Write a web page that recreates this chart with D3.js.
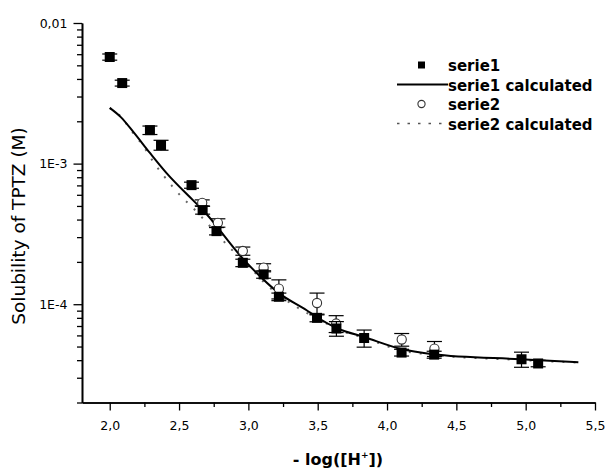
<!DOCTYPE html>
<html>
<head>
<meta charset="utf-8">
<script src="https://cdn.jsdelivr.net/npm/d3@7"></script>
<style>
  html, body { margin: 0; padding: 0; background: #fff; }
  svg { display: block; }
  text { font-family: "DejaVu Sans", sans-serif; fill: #000; }
</style>
</head>
<body>
<svg id="chart" width="606" height="468"></svg>
<script>
// Measured solubility, serie1 (filled squares)
const serie1X   = [2.00, 2.09, 2.29, 2.37, 2.59, 2.67, 2.77, 2.96, 3.11, 3.22, 3.495, 3.635, 3.835, 4.105, 4.34, 4.97, 5.09];
const serie1Y   = [5.73e-3, 3.74e-3, 1.73e-3, 1.355e-3, 7.03e-4, 4.67e-4, 3.31e-4, 1.97e-4, 1.63e-4, 1.13e-4, 8.0e-5, 6.72e-5, 5.75e-5, 4.53e-5, 4.38e-5, 4.06e-5, 3.79e-5];
const serie1Err = [2.9e-4, 1.8e-4, 1.2e-4, 1.1e-4, 3.5e-5, 3.0e-5, 2.0e-5, 1.2e-5, 1.0e-5, 7.0e-6, 5.0e-6, 8.0e-6, 8.0e-6, 2.5e-6, 2.5e-6, 5.0e-6, 2.0e-6];

// Measured solubility, serie2 (open circles)
const serie2X   = [2.667, 2.78, 2.96, 3.11, 3.22, 3.495, 3.633, 4.106, 4.342];
const serie2Y   = [5.26e-4, 3.79e-4, 2.39e-4, 1.82e-4, 1.29e-4, 1.02e-4, 7.29e-5, 5.61e-5, 4.84e-5];
const serie2Err = [2.6e-5, 2.6e-5, 1.6e-5, 1.2e-5, 2.0e-5, 1.8e-5, 1.0e-5, 0.58e-5, 0.59e-5];

// Model curves
const calc1X = [2.00, 2.08, 2.17, 2.29, 2.41, 2.60, 2.665, 2.97, 3.22, 3.42, 3.495, 3.64, 3.84, 4.11, 4.33, 4.96, 5.38];
const calc1Y = [2.49e-3, 2.14e-3, 1.68e-3, 1.19e-3, 8.56e-4, 5.50e-4, 4.75e-4, 2.06e-4, 1.20e-4, 9.06e-5, 8.08e-5, 6.75e-5, 5.82e-5, 4.78e-5, 4.41e-5, 4.06e-5, 3.87e-5];
const calc2X = [2.00, 2.09, 2.146, 2.21, 2.27, 2.32, 2.38, 2.45, 2.52, 2.58, 2.87, 3.03, 3.11, 3.35, 3.50, 3.65, 3.85, 4.10, 4.35, 4.95, 5.38];
const calc2Y = [2.48e-3, 2.11e-3, 1.76e-3, 1.47e-3, 1.21e-3, 1.01e-3, 8.42e-4, 6.92e-4, 5.78e-4, 5.07e-4, 2.50e-4, 1.75e-4, 1.44e-4, 9.52e-5, 7.9e-5, 6.6e-5, 5.7e-5, 4.7e-5, 4.35e-5, 4.02e-5, 3.85e-5];

// Axis ticks
const xMajor = [2.0, 2.5, 3.0, 3.5, 4.0, 4.5, 5.0, 5.5];
const xMajorLabels = ["2,0", "2,5", "3,0", "3,5", "4,0", "4,5", "5,0", "5,5"];
const xMinor = [2.25, 2.75, 3.25, 3.75, 4.25, 4.75, 5.25];
const yMajor = [1e-4, 1e-3, 1e-2];
const yMajorLabels = ["1E-4", "1E-3", "0,01"];
const yMinor = [2e-5, 3e-5, 4e-5, 5e-5, 6e-5, 7e-5, 8e-5, 9e-5,
                2e-4, 3e-4, 4e-4, 5e-4, 6e-4, 7e-4, 8e-4, 9e-4,
                2e-3, 3e-3, 4e-3, 5e-3, 6e-3, 7e-3, 8e-3, 9e-3];

const legendLabels = ["serie1", "serie1 calculated", "serie2", "serie2 calculated"];

const svg = d3.select("#chart");

const x = d3.scaleLinear().domain([1.8, 5.5]).range([82, 595]);
const y = d3.scaleLog().domain([2e-5, 0.01]).range([402.5, 23]);

// ---- axes ----
const axisStyle = g => {
  g.select(".domain").attr("stroke", "#000").attr("stroke-width", 1.6);
  g.selectAll(".tick line").attr("stroke", "#000").attr("stroke-width", 1.3);
  g.selectAll("text").attr("font-size", "12.5px").attr("fill", "#000")
    .style("font-family", '"DejaVu Sans", sans-serif');
};

svg.append("g").attr("transform", "translate(0,402.5)")
  .call(d3.axisBottom(x).tickValues(xMinor).tickSize(4.5).tickFormat("").tickSizeOuter(0))
  .call(axisStyle);
svg.append("g").attr("transform", "translate(0,402.5)")
  .call(d3.axisBottom(x).tickValues(xMajor).tickSize(8).tickPadding(11)
    .tickFormat((d, i) => xMajorLabels[i]).tickSizeOuter(0))
  .call(axisStyle);

svg.append("g").attr("transform", "translate(82,0)")
  .call(d3.axisLeft(y).tickValues(yMinor).tickSize(5).tickFormat("").tickSizeOuter(0))
  .call(axisStyle);
svg.append("g").attr("transform", "translate(82,0)")
  .call(d3.axisLeft(y).tickValues(yMajor).tickSize(8.5).tickPadding(6)
    .tickFormat((d, i) => yMajorLabels[i]).tickSizeOuter(0))
  .call(axisStyle);

// axis titles
svg.append("text")
  .attr("transform", "translate(24.5,226) rotate(-90)")
  .attr("text-anchor", "middle")
  .attr("font-size", "18.5px")
  .text("Solubility of TPTZ (M)");

const xt = svg.append("text")
  .attr("x", 338).attr("y", 465)
  .attr("text-anchor", "middle")
  .attr("font-size", "16px")
  .attr("font-weight", "bold");
xt.append("tspan").text("- log([H");
xt.append("tspan").attr("font-size", "9px").attr("dy", -7).text("+");
xt.append("tspan").attr("dy", 7).text("])");

// ---- curves ----
const line = d3.line().x(d => x(d[0])).y(d => y(d[1])).curve(d3.curveMonotoneX);
const calc1 = calc1X.map((v, i) => [v, calc1Y[i]]);
const calc2 = calc2X.map((v, i) => [v, calc2Y[i]]);

svg.append("path").datum(calc2)
  .attr("d", line).attr("fill", "none")
  .attr("stroke", "#666").attr("stroke-width", 2)
  .attr("stroke-dasharray", "2,9");
svg.append("path").datum(calc1)
  .attr("d", line).attr("fill", "none")
  .attr("stroke", "#000").attr("stroke-width", 2);

// ---- error bars ----
function errorBars(xs, ys, es, capW, color) {
  const g = svg.append("g").attr("stroke", color).attr("stroke-width", 1.2).attr("fill", "none");
  xs.forEach((v, i) => {
    const cx = x(v), top = y(ys[i] + es[i]), bot = y(ys[i] - es[i]);
    g.append("line").attr("x1", cx).attr("x2", cx).attr("y1", top).attr("y2", bot);
    g.append("line").attr("x1", cx - capW / 2).attr("x2", cx + capW / 2).attr("y1", top).attr("y2", top);
    g.append("line").attr("x1", cx - capW / 2).attr("x2", cx + capW / 2).attr("y1", bot).attr("y2", bot);
  });
}

errorBars(serie2X, serie2Y, serie2Err, 15, "#000");
svg.append("g").selectAll("circle")
  .data(serie2X.map((v, i) => [v, serie2Y[i]]))
  .join("circle")
  .attr("cx", d => x(d[0])).attr("cy", d => y(d[1])).attr("r", 4.6)
  .attr("fill", "#fff").attr("stroke", "#333").attr("stroke-width", 1.1);

errorBars(serie1X, serie1Y, serie1Err, 15, "#000");
svg.append("g").selectAll("rect")
  .data(serie1X.map((v, i) => [v, serie1Y[i]]))
  .join("rect")
  .attr("x", d => x(d[0]) - 5).attr("y", d => y(d[1]) - 5)
  .attr("width", 10).attr("height", 10).attr("fill", "#000");

// ---- legend ----
const lg = svg.append("g");
const rowY = [71, 90.5, 110, 129.5];
lg.selectAll("text").data(legendLabels).join("text")
  .attr("x", 448).attr("y", (d, i) => rowY[i])
  .attr("font-size", "15px").attr("font-weight", "bold")
  .text(d => d);
lg.append("rect").attr("x", 418).attr("y", rowY[0] - 9.5).attr("width", 7).attr("height", 7).attr("fill", "#000");
lg.append("line").attr("x1", 397).attr("x2", 448).attr("y1", rowY[1] - 6).attr("y2", rowY[1] - 6)
  .attr("stroke", "#000").attr("stroke-width", 1.8);
lg.append("circle").attr("cx", 421.5).attr("cy", rowY[2] - 6).attr("r", 3.6)
  .attr("fill", "#fff").attr("stroke", "#333").attr("stroke-width", 1.1);
lg.append("line").attr("x1", 397).attr("x2", 448).attr("y1", rowY[3] - 6).attr("y2", rowY[3] - 6)
  .attr("stroke", "#555").attr("stroke-width", 1.6).attr("stroke-dasharray", "2.5,8");
</script>
</body>
</html>
